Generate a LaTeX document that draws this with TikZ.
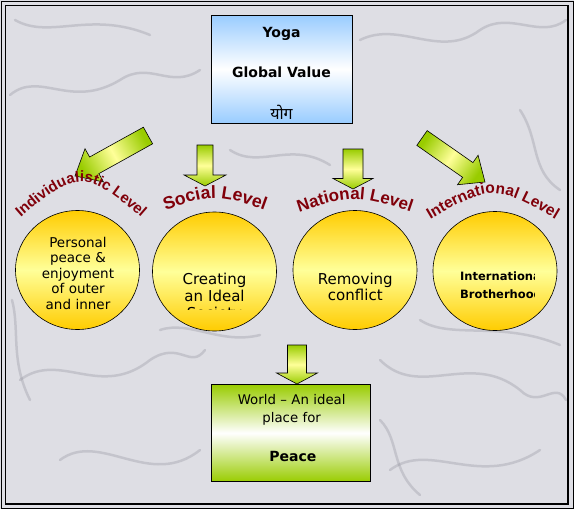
\documentclass[tikz,border=0pt]{standalone}
\usepackage{fontspec}
\setmainfont{DejaVu Sans}
\newfontfamily\levelfont{Liberation Sans}
\newfontfamily\hindifont[Script=Devanagari]{Noto Sans}
\usetikzlibrary{calc,shapes.geometric,decorations.text}

\definecolor{marble}{RGB}{222,222,228}
\definecolor{vein}{RGB}{150,150,160}
\definecolor{skyblue}{RGB}{153,204,255}
\definecolor{leafgreen}{RGB}{153,204,0}
\definecolor{paleyellow}{RGB}{255,255,153}
\definecolor{gold}{RGB}{255,204,0}
\definecolor{levelred}{RGB}{128,0,10}

\tikzset{
  marblevein/.style={draw=vein, line width=2.5pt, opacity=0.35, line cap=round},
  valuebox/.style={rectangle, draw=black, line width=0.6pt, inner sep=0pt},
  levelcircle/.style={ellipse, draw=black, line width=0.6pt, minimum width=124pt,
    minimum height=119pt, inner sep=0pt, top color=gold, bottom color=gold, middle color=paleyellow},
  circtext/.style={text width=110pt, align=center, inner sep=0pt},
  arrowfill/.style={draw=black, line width=0.6pt, top color=leafgreen,
    bottom color=leafgreen, middle color=paleyellow},
}

% block arrow: tail, tip, shaft half width, head half width, head length, shading angle
\newcommand{\blockarrow}[6]{%
  \coordinate (#1-h) at ($(#2)!#5!(#1)$);
  \path[arrowfill, shading angle=#6]
    ($(#1)!#3!90:(#2)$) -- ($(#1-h)!#3!90:(#2)$) -- ($(#1-h)!#4!90:(#2)$) -- (#2)
    -- ($(#1-h)!#4!-90:(#2)$) -- ($(#1-h)!#3!-90:(#2)$) -- ($(#1)!#3!-90:(#2)$) -- cycle;
}

\begin{document}
\begin{tikzpicture}[x=1pt,y=-1pt]
  \useasboundingbox (0,0) rectangle (574,509);
  \fill[marble] (0,0) rectangle (574,509);

  % marble veins
  \draw[marblevein] (10,95) .. controls (40,70) and (70,110) .. (120,80) .. controls (150,60) and (170,90) .. (200,70);
  \draw[marblevein] (360,40) .. controls (400,20) and (440,60) .. (480,30) .. controls (510,10) and (540,40) .. (566,20);
  \draw[marblevein] (20,380) .. controls (60,350) and (100,400) .. (150,360) .. controls (180,340) and (190,370) .. (205,350);
  \draw[marblevein] (380,360) .. controls (420,400) and (470,350) .. (520,390) .. controls (540,410) and (555,380) .. (566,400);
  \draw[marblevein] (60,460) .. controls (100,430) and (150,490) .. (200,450);
  \draw[marblevein] (390,470) .. controls (430,440) and (480,490) .. (540,450);
  \draw[marblevein] (230,150) .. controls (260,170) and (290,140) .. (330,165);
  \draw[marblevein] (520,110) .. controls (540,140) and (530,170) .. (560,190);
  \draw[marblevein] (15,20) .. controls (50,40) and (90,10) .. (150,35);
  \draw[marblevein] (160,330) .. controls (190,320) and (220,345) .. (260,335);
  \draw[marblevein] (420,320) .. controls (450,340) and (500,320) .. (560,345);
  \draw[marblevein] (380,420) .. controls (400,440) and (390,470) .. (420,495);
  \draw[marblevein] (12,300) .. controls (20,330) and (10,360) .. (30,400);

  % top box
  \node[valuebox, minimum width=141pt, minimum height=108pt,
    top color=skyblue, bottom color=skyblue, middle color=white] (yoga) at (281.5,69) {};
  \node[anchor=base, font=\bfseries\fontsize{14}{14}\selectfont] (yogaword) at (281.5,37) {Yoga};
  \node[anchor=base, font=\bfseries\fontsize{14}{14}\selectfont] (globalvalue) at (281.5,77.3) {Global Value};
  \node[anchor=base, font=\hindifont\fontsize{16}{16}\selectfont] (yogahindi) at (281.5,119) {योग};

  % arrows
  \coordinate (lTail) at (148,135.5); \coordinate (lTip) at (75,176);
  \coordinate (sTail) at (205,145);   \coordinate (sTip) at (205,186);
  \coordinate (nTail) at (353,149);   \coordinate (nTip) at (353,189);
  \coordinate (iTail) at (422,138);   \coordinate (iTip) at (485,182);
  \coordinate (wTail) at (297,345);   \coordinate (wTip) at (297,384);
  \blockarrow{lTail}{lTip}{9.5pt}{19pt}{22pt}{-61}
  \blockarrow{sTail}{sTip}{8pt}{21pt}{11pt}{0}
  \blockarrow{nTail}{nTip}{10pt}{20pt}{10.5pt}{0}
  \blockarrow{iTail}{iTip}{9pt}{18pt}{21pt}{55}
  \blockarrow{wTail}{wTip}{9.5pt}{20.5pt}{11pt}{0}

  % level circles
  \node[levelcircle] (personal) at (77.5,270) {};
  \node[levelcircle] (social) at (214.5,271.5) {};
  \node[levelcircle] (national) at (355,270) {};
  \node[levelcircle] (international) at (495,271) {};

  \begin{scope}
    \clip (20,230) rectangle (135,310);
    \node[circtext, anchor=base, font=\fontsize{13.5}{15.5}\selectfont] (personaltext) at (78,247.3)
      {Personal\\peace \&\\enjoyment\\of outer\\and inner};
  \end{scope}
  \begin{scope}
    \clip (160,262) rectangle (270,309.5);
    \node[circtext, anchor=base, font=\fontsize{15}{17}\selectfont] (socialtext) at (214.5,284)
      {Creating\\an Ideal\\Society};
  \end{scope}
  \begin{scope}
    \clip (300,262) rectangle (410,311);
    \node[circtext, anchor=base, font=\fontsize{15}{16}\selectfont] (nationaltext) at (355.3,284.7)
      {Removing\\conflict};
  \end{scope}
  \begin{scope}
    \clip (458,262) rectangle (534,311);
    \node[circtext, align=left, anchor=base west, font=\bfseries\fontsize{11.5}{18.3}\selectfont]
      (internationaltext) at (460,280) {International\\Brotherhood};
  \end{scope}

  % curved level labels
  \path[decorate, decoration={text along path, text align=center, text color=levelred,
    text={|\levelfont\bfseries\fontsize{15}{15}\selectfont|Individualistic Level}}]
    (0,236) .. controls (81,164) .. (162,236);
  \path[decorate, decoration={text along path, text align=center, text color=levelred,
    text={|\levelfont\bfseries\fontsize{17.7}{17.7}\selectfont|Social Level}}]
    (150,216) .. controls (215,192) .. (280,216);
  \path[decorate, decoration={text along path, text align=center, text color=levelred,
    text={|\levelfont\bfseries\fontsize{17}{17}\selectfont|National Level}}]
    (285,217) .. controls (355,193) .. (425,217);
  \path[decorate, decoration={text along path, text align=center, text color=levelred,
    text={|\levelfont\bfseries\fontsize{15.5}{15.5}\selectfont|International Level}}]
    (416,228) .. controls (493,182) .. (570,228);

  % bottom box
  \node[valuebox, minimum width=159pt, minimum height=97.5pt,
    top color=leafgreen, bottom color=leafgreen, middle color=white] (world) at (290.5,433) {};
  \node[circtext, anchor=base, font=\fontsize{13.3}{18.7}\selectfont] (worldtext) at (291.7,404)
    {World \textendash\ An ideal\\place for};
  \node[anchor=base, font=\bfseries\fontsize{14}{14}\selectfont] (peace) at (292.8,461) {Peace};

  % frame
  \draw[line width=1pt] (1,1.5) rectangle (573,508);
  \draw[line width=1.5pt] (5.5,5.5) rectangle (568,504);
\end{tikzpicture}
\end{document}
